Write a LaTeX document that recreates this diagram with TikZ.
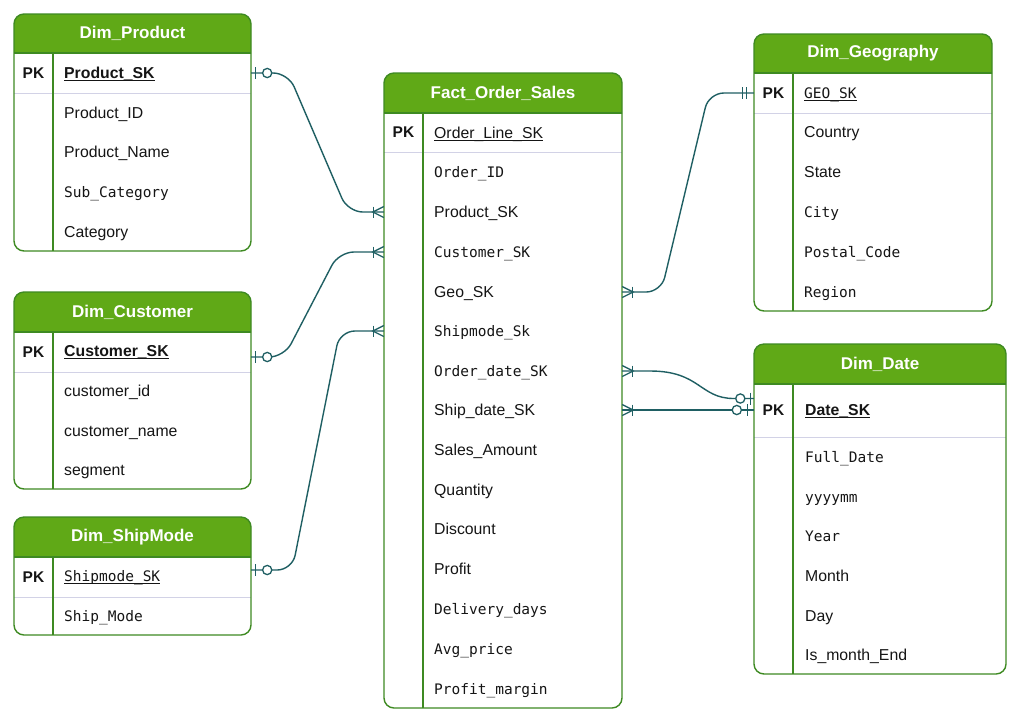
\documentclass[tikz,border=0pt]{standalone}
\usepackage{fontspec}
\setmainfont{Liberation Sans}
\newfontfamily\monofont{DejaVu Sans Mono}
\usetikzlibrary{fit,calc}
\definecolor{hdr}{HTML}{60A917}
\definecolor{bordc}{HTML}{3E8A22}
\definecolor{sepc}{HTML}{D2D2E6}
\definecolor{linec}{HTML}{1F5F63}
\definecolor{txt}{HTML}{151515}
\newcommand\ulx[1]{\setbox0\hbox{#1}\rlap{\rule[-2.6pt]{\wd0}{1.1pt}}\box0}
\tikzset{
  bord/.style={draw=bordc, line width=1.4pt},
  sepline/.style={draw=sepc, line width=1pt},
  hdrtxt/.style={text=white, inner sep=0, font=\bfseries\fontsize{17}{20}\selectfont},
  pktxt/.style={text=txt, inner sep=0, font=\bfseries\fontsize{15.5}{19}\selectfont},
  sf/.style={anchor=west, inner sep=0, text height=11.5pt, text depth=0pt, text=txt, font=\fontsize{15.8}{19}\selectfont},
  mf/.style={sf, font=\monofont\fontsize{14.5}{17}\selectfont},
  conn/.style={draw=linec, line width=1.4pt},
  mkline/.style={draw=linec, line width=1.3pt},
}
% name x1 y1 x2 y2 headerbottom pksep divider title
\newcommand\ertab[9]{%
  \begin{scope}
    \clip (#2,#3) rectangle (#4,#6);
    \fill[hdr, rounded corners=10pt] (#2,#3) rectangle (#4,#5);
  \end{scope}
  \draw[sepline] (#2,#7) -- (#4,#7);
  \draw[bord] (#8,#6) -- (#8,#5);
  \draw[bord] (#2,#6) -- (#4,#6);
  \draw[bord, rounded corners=10pt] (#2,#3) rectangle (#4,#5);
  \node[fit={(#2,#3) (#4,#5)}, inner sep=0] (#1) {};
  \node[hdrtxt] at ({(#2+#4)/2},{(#3+#6)/2}) {#9};
  \node[pktxt] at ({(#2+#8)/2},{(#6+#7)/2}) {PK};
}
% crow's foot (one-to-many) on left edge
\newcommand\crowL[1]{%
  \draw[mkline] ($(#1)+(-10,-5.5)$) -- ($(#1)+(-10,5.5)$);
  \draw[mkline] ($(#1)+(0,-5.5)$) -- ($(#1)+(-11,0)$) -- ($(#1)+(0,5.5)$);}
\newcommand\crowR[1]{%
  \draw[mkline] ($(#1)+(10,-5.5)$) -- ($(#1)+(10,5.5)$);
  \draw[mkline] ($(#1)+(0,-5.5)$) -- ($(#1)+(11,0)$) -- ($(#1)+(0,5.5)$);}
% zero-or-one; #2 = direction (+1 right, -1 left), #3 bar offset, #4 circle offset
\newcommand\zeroone[4]{%
  \draw[mkline] ($(#1)+(#2*#3,-6)$) -- ($(#1)+(#2*#3,6)$);
  \draw[mkline, fill=white] ($(#1)+(#2*#4,0)$) circle[radius=4.6pt];}
\begin{document}
\begin{tikzpicture}[x=1pt,y=-1pt]
\useasboundingbox (0,0) rectangle (1019,724);
\fill[white] (0,0) rectangle (1019,724);

% ---------- tables ----------
\ertab{prod}{14}{14}{251}{251}{53}{93}{53}{Dim\_Product}
\node[sf] (pSK)  at (64,73)  {\ulx{\bfseries Product\_SK}};
\node[sf] (pID)  at (64,113) {Product\_ID};
\node[sf] (pNm)  at (64,152) {Product\_Name};
\node[mf] (pSub) at (64,192) {Sub\_Category};
\node[sf] (pCat) at (64,232) {Category};

\ertab{cust}{14}{292}{251}{489}{332}{372}{53}{Dim\_Customer}
\node[sf] (cSK)  at (64,351) {\ulx{\bfseries Customer\_SK}};
\node[sf] (cID)  at (64,391) {customer\_id};
\node[sf] (cNm)  at (64,431) {customer\_name};
\node[sf] (cSeg) at (64,470) {segment};

\ertab{ship}{14}{517}{251}{635}{557}{597}{53}{Dim\_ShipMode}
\node[mf] (sSK) at (64,576) {\ulx{Shipmode\_SK}};
\node[mf] (sMd) at (64,616) {Ship\_Mode};

\ertab{fact}{384}{73}{622}{708}{113}{152}{423}{Fact\_Order\_Sales}
\node[sf] (fSK)   at (434,133) {\ulx{Order\_Line\_SK}};
\node[mf] (fOID)  at (434,172) {Order\_ID};
\node[sf] (fProd) at (434,212) {Product\_SK};
\node[mf] (fCust) at (434,252) {Customer\_SK};
\node[sf] (fGeo)  at (434,292) {Geo\_SK};
\node[mf] (fShip) at (434,331) {Shipmode\_Sk};
\node[mf] (fOD)   at (434,371) {Order\_date\_SK};
\node[sf] (fSD)   at (434,410) {Ship\_date\_SK};
\node[sf] (fSA)   at (434,450) {Sales\_Amount};
\node[sf] (fQ)    at (434,490) {Quantity};
\node[sf] (fDis)  at (434,529) {Discount};
\node[sf] (fPr)   at (434,569) {Profit};
\node[mf] (fDel)  at (434,609) {Delivery\_days};
\node[mf] (fAvg)  at (434,649) {Avg\_price};
\node[mf] (fPM)   at (434,689) {Profit\_margin};

\ertab{geo}{754}{34}{992}{311}{73}{113}{793}{Dim\_Geography}
\node[mf] (gSK)  at (804,93)  {\ulx{GEO\_SK}};
\node[sf] (gCo)  at (804,132) {Country};
\node[sf] (gSt)  at (804,172) {State};
\node[mf] (gCi)  at (804,212) {City};
\node[mf] (gPC)  at (804,252) {Postal\_Code};
\node[mf] (gRe)  at (804,292) {Region};

\ertab{date}{754}{344}{1006}{674}{384}{437}{793}{Dim\_Date}
\node[sf] (dSK)  at (805,410) {\ulx{\bfseries Date\_SK}};
\node[mf] (dFD)  at (805,457) {Full\_Date};
\node[mf] (dYM)  at (805,497) {yyyymm};
\node[mf] (dY)   at (805,536) {Year};
\node[sf] (dM)   at (805,576) {Month};
\node[sf] (dD)   at (805,616) {Day};
\node[sf] (dE)   at (805,655) {Is\_month\_End};

% ---------- connector end points ----------
\coordinate (aP) at (prod.east |- pSK.west);
\coordinate (bP) at (fact.west |- fProd.west);
\coordinate (aC) at ($(cust.east |- cSK.west)+(0,6)$);
\coordinate (bC) at (fact.west |- fCust.west);
\coordinate (aS) at ($(ship.east |- sSK.west)+(0,-6)$);
\coordinate (bS) at (fact.west |- fShip.west);
\coordinate (aG) at (fact.east |- fGeo.west);
\coordinate (bG) at (geo.west |- gSK.west);
\coordinate (aO) at (fact.east |- fOD.west);
\coordinate (bO) at ($(date.west |- dSK.west)+(0,-11.5)$);
\coordinate (aD) at (fact.east |- fSD.west);
\coordinate (bD) at (date.west |- fSD.west);

% ---------- connectors ----------
\draw[conn, rounded corners=15pt] (aP) -- ++(37,0) -- ($(bP)+(-36,0)$) -- (bP);
\draw[conn, rounded corners=15pt] (aC) -- ++(33,0) -- ($(bC)+(-45,0)$) -- (bC);
\draw[conn, rounded corners=15pt] (aS) -- ++(41,0) -- ($(bS)+(-44,0)$) -- (bS);
\draw[conn, rounded corners=15pt] (aG) -- ++(39,0) -- ($(bG)+(-45,0)$) -- (bG);
\draw[conn] (aO) -- ++(28,0) .. controls ($(aO)+(78,0)$) and ($(bO)+(-54,0)$) .. ($(bO)+(-20,0)$) -- (bO);
\draw[conn] (aD) -- (bD);

% ---------- markers ----------
\zeroone{aP}{1}{4.5}{16}
\zeroone{aC}{1}{4.5}{16}
\zeroone{aS}{1}{4.5}{16}
\crowL{bP}
\crowL{bC}
\crowL{bS}
\crowR{aG}
\crowR{aO}
\crowR{aD}
\draw[mkline] ($(bG)+(-7,-6)$) -- ($(bG)+(-7,6)$);
\draw[mkline] ($(bG)+(-11,-6)$) -- ($(bG)+(-11,6)$);
\zeroone{bO}{-1}{3.5}{13.5}
\zeroone{bD}{-1}{6}{17}
\end{tikzpicture}
\end{document}
